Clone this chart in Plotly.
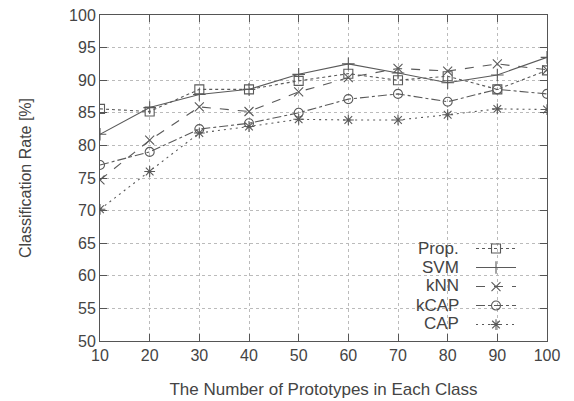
import plotly.graph_objects as go

prototypes = [10, 20, 30, 40, 50, 60, 70, 80, 90, 100]
prop = [85.6, 85.2, 88.6, 88.6, 89.9, 91.0, 90.0, 90.6, 88.6, 91.5]
svm = [81.7, 85.8, 87.8, 88.6, 90.9, 92.5, 91.1, 89.6, 90.8, 93.5]
knn = [74.7, 80.8, 85.9, 85.2, 88.2, 90.4, 91.8, 91.4, 92.5, 91.6]
kcap = [77.0, 79.0, 82.5, 83.4, 85.0, 87.1, 87.9, 86.7, 88.6, 87.9]
cap = [70.2, 76.0, 81.9, 82.9, 84.0, 83.9, 83.9, 84.7, 85.6, 85.5]
names = ["Prop.", "SVM", "kNN", "kCAP", "CAP"]

styles = [
    ("dot", "square-open"),
    ("solid", "cross-thin-open"),
    ("dash", "x-thin-open"),
    ("dashdot", "circle-open"),
    ("2px,4px", "asterisk-open"),
]

col = "#5a5a5a"
fig = go.Figure()
for name, vals, (dash, sym) in zip(names, [prop, svm, knn, kcap, cap], styles):
    fig.add_trace(go.Scatter(
        x=prototypes, y=vals, name=name, mode="lines+markers",
        line=dict(color=col, width=1.1, dash=dash),
        marker=dict(symbol=sym, size=9, color=col, line=dict(color=col, width=1.1)),
    ))

axis_common = dict(
    showline=True, linecolor="#555", linewidth=1, mirror="ticks",
    ticks="inside", ticklen=7, tickcolor="#555",
    showgrid=True, gridcolor="#bbbbbb", griddash="dot", gridwidth=1,
    zeroline=False, tickfont=dict(size=16, color="#444"),
)
fig.update_xaxes(range=[10, 100], dtick=10, title=dict(text="The Number of Prototypes in Each Class",
                 font=dict(size=17, color="#444"), standoff=19), **axis_common)
fig.update_yaxes(range=[50, 100], dtick=5, title=dict(text="Classification Rate [%]",
                 font=dict(size=16, color="#444"), standoff=33), **axis_common)

# legend labels drawn to the left of the symbols (as in the original)
label_y = [0.284, 0.226, 0.169, 0.110, 0.054]
for name, yy in zip(names, label_y):
    fig.add_annotation(text=name, x=0.808, y=yy, xref="paper", yref="paper",
                       xanchor="right", yanchor="middle", showarrow=False,
                       font=dict(size=17, color="#444"))

fig.update_layout(
    width=574, height=401,
    margin=dict(l=100, r=27, t=15, b=60, autoexpand=False),
    plot_bgcolor="white", paper_bgcolor="white",
    font=dict(family="Liberation Sans, Arial, sans-serif", color="#444"),
    legend=dict(x=0.83, y=0.328, xanchor="left", yanchor="top",
                bgcolor="rgba(255,255,255,0)", font=dict(size=12, color="rgba(0,0,0,0)"),
                tracegroupgap=0, itemwidth=40),
)
fig.write_html("out.html", config={"displayModeBar": False},
               post_script="document.body.style.margin='0';")
